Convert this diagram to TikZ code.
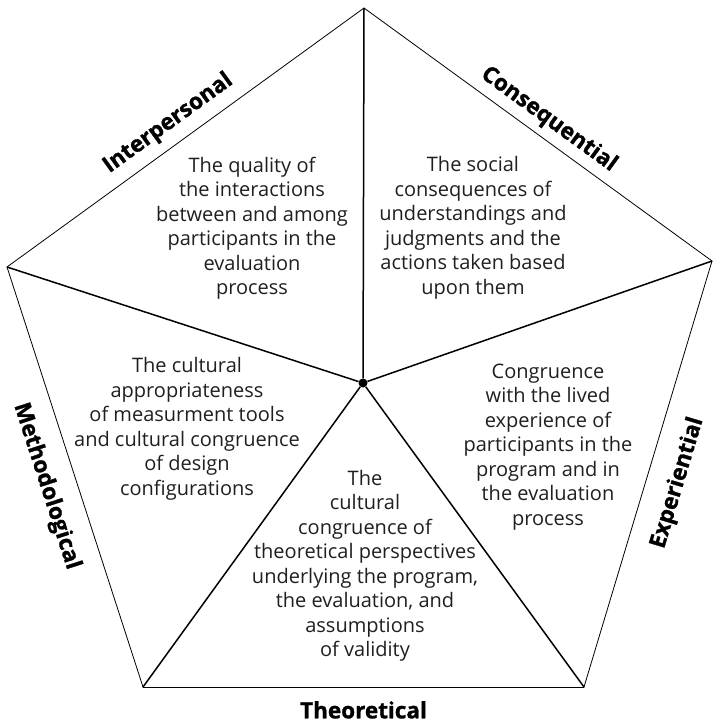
\documentclass[tikz,border=0pt]{standalone}
\usepackage{fontspec}
\setmainfont{Open Sans}
\newfontfamily\headfont{Open Sans}[BoldFeatures={FakeBold=1.2}]
\begin{document}
\begin{tikzpicture}[x=1pt,y=-1pt,
  edge/.style={line width=0.8pt, line cap=round},
  spoke/.style={line width=1.5pt},
  facet/.style={sloped, font=\fontsize{22.5}{26}\headfont\bfseries},
  blurb/.style={align=center, text=black!88, font=\fontsize{20}{24.5}\selectfont}]
\useasboundingbox (0,0) rectangle (713,723);
% corners of the pentagon and the hub
\coordinate (t)  at (364,8);
\coordinate (r)  at (712,261);
\coordinate (br) at (584,687);
\coordinate (bl) at (143,687);
\coordinate (l)  at (7,267);
\node[circle, fill, inner sep=0pt, minimum size=9pt] (hub) at (363,383) {};
% the outline with its five headings
\draw[edge] (l) -- node[facet, pos=.487, above=6.5pt] (interpLab) {Interpersonal} (t);
\draw[edge] (t) -- node[facet, above=3.5pt] (conseqLab) {Consequential} (r);
\draw[edge] (br) -- node[facet, below=16pt] (experLab) {Experiential} (r);
\draw[edge] (bl) -- node[facet, below=10.5pt] (theorLab) {Theoretical} (br);
\draw[edge] (l) -- node[facet, below=15pt] (methodLab) {Methodological} (bl);
% the spokes
\foreach \v in {t,r,br,bl,l}
  \draw[spoke] (hub) -- (\v);
% what each facet stands for
\node[blurb] (interp) at (252,228) {The quality of\\the interactions\\between and among\\participants in the\\evaluation\\process};
\node[blurb] (conseq) at (473,228) {The social\\consequences of\\understandings and\\judgments and the\\actions taken based\\upon them};
\node[blurb] (method) at (187,429) {The cultural\\appropriateness\\of measurment tools\\and cultural congruence\\of design\\configurations};
\node[blurb] (exper) at (548,447) {Congruence\\with the lived\\experience of\\participants in the\\program and in\\the evaluation\\process};
\node[blurb] (theor) at (365,566) {The\\cultural\\congruence of\\theoretical perspectives\\underlying the program,\\the evaluation, and\\assumptions\\of validity};
\end{tikzpicture}
\end{document}
